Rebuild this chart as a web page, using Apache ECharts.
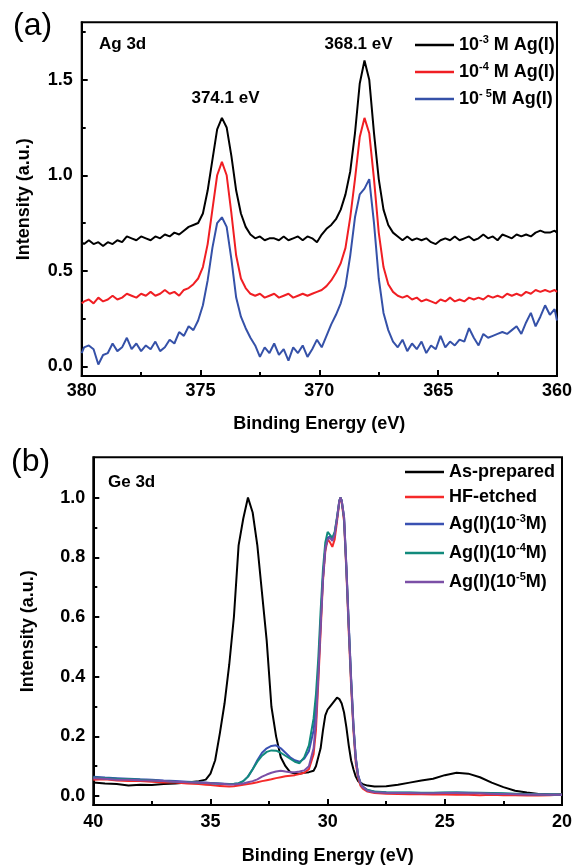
<!DOCTYPE html>
<html>
<head>
<meta charset="utf-8">
<script src="https://cdn.jsdelivr.net/npm/echarts@6/dist/echarts.min.js"></script>
<style>
html,body{margin:0;padding:0;background:#fff;}
#c{width:575px;height:866px;}
</style>
</head>
<body>
<div id="c"></div>
<script>
const FONT = '"Liberation Sans", Arial, Helvetica, sans-serif';

// ---------- Panel (a): Ag 3d ----------
// sampling positions (eV): 380, 379.9 ... 360.1 (step 0.2), 360
const energyA = [380].concat(Array.from({length: 100}, (_, i) => +(379.9 - 0.2 * i).toFixed(1))).concat([360]);
const agM3 = [0.65,
 0.64,0.66,0.64,0.65,0.63,0.65,0.64,0.66,0.65,0.68,
 0.67,0.66,0.68,0.67,0.66,0.68,0.67,0.69,0.68,0.70,
 0.69,0.71,0.73,0.74,0.75,0.80,0.92,1.08,1.24,1.30,
 1.25,1.10,0.92,0.80,0.73,0.69,0.67,0.68,0.66,0.67,
 0.67,0.66,0.68,0.66,0.67,0.68,0.66,0.68,0.67,0.65,
 0.69,0.72,0.74,0.77,0.82,0.90,1.02,1.22,1.48,1.60,
 1.50,1.22,0.98,0.82,0.74,0.70,0.68,0.66,0.68,0.66,
 0.67,0.66,0.67,0.65,0.64,0.66,0.67,0.66,0.68,0.66,
 0.67,0.68,0.66,0.67,0.69,0.67,0.68,0.66,0.69,0.68,
 0.67,0.69,0.68,0.69,0.68,0.70,0.71,0.70,0.70,0.71,
 0.70];
const agM4 = [0.33,
 0.34,0.35,0.33,0.36,0.34,0.35,0.37,0.35,0.36,0.38,
 0.37,0.36,0.38,0.37,0.39,0.37,0.38,0.40,0.38,0.39,
 0.37,0.40,0.41,0.43,0.46,0.52,0.64,0.82,1.00,1.07,
 1.00,0.80,0.58,0.46,0.41,0.38,0.37,0.38,0.36,0.37,
 0.38,0.36,0.37,0.38,0.36,0.37,0.38,0.37,0.38,0.39,
 0.40,0.42,0.45,0.49,0.54,0.62,0.78,0.98,1.20,1.30,
 1.22,0.98,0.70,0.52,0.43,0.39,0.37,0.36,0.37,0.35,
 0.36,0.34,0.35,0.34,0.33,0.35,0.34,0.36,0.34,0.35,
 0.34,0.36,0.35,0.36,0.35,0.37,0.36,0.37,0.36,0.38,
 0.37,0.38,0.37,0.39,0.38,0.40,0.39,0.40,0.39,0.40,
 0.39];
const agM5 = [0.07,
 0.10,0.11,0.09,0.01,0.06,0.07,0.12,0.08,0.10,0.15,
 0.09,0.12,0.08,0.11,0.09,0.13,0.08,0.10,0.14,0.12,
 0.18,0.16,0.21,0.19,0.24,0.32,0.45,0.62,0.75,0.78,
 0.73,0.56,0.36,0.26,0.20,0.15,0.11,0.05,0.10,0.07,
 0.12,0.06,0.09,0.03,0.10,0.07,0.11,0.05,0.09,0.14,
 0.10,0.16,0.22,0.27,0.33,0.42,0.58,0.78,0.90,0.93,
 0.98,0.75,0.46,0.28,0.19,0.13,0.10,0.14,0.08,0.12,
 0.09,0.13,0.07,0.11,0.09,0.16,0.10,0.13,0.11,0.14,
 0.13,0.20,0.15,0.11,0.17,0.15,0.16,0.17,0.18,0.17,
 0.19,0.21,0.17,0.23,0.28,0.21,0.26,0.32,0.27,0.30,
 0.24];
const namesA = ['10-3 M Ag(I)', '10-4 M Ag(I)', '10-5M Ag(I)'];
const legendTextA = ['{n|10}{s|-3}{n| M Ag(I)}', '{n|10}{s|-4}{n| M Ag(I)}', '{n|10}{s|- 5}{n|M Ag(I)}'];
const ticksA = [0, 0.5, 1.0, 1.5];
const minorTicksA = [0.25, 0.75, 1.25, 1.75];
const peakLabelsA = [
  {name: '374.1 eV', coord: [373.95, 1.40]},
  {name: '368.1 eV', coord: [368.35, 1.685]}
];

// ---------- Panel (b): Ge 3d ----------
const energyB = [40,39.5,39,38.5,38,37.5,37,36.5,36,35.5,
 35.2,35.0,34.8,34.6,34.4,34.2,34.0,33.8,33.6,33.4,33.2,33.0,32.8,32.6,32.4,32.2,32.0,31.8,31.6,31.4,31.2,31.0,
 30.8,30.6,
 30.5,30.4,30.3,30.2,30.1,30.0,29.9,29.8,29.7,29.6,29.5,
 29.45,
 29.4,29.3,29.2,29.1,29.0,28.9,28.8,28.7,28.6,28.5,
 28.3,28.0,
 27.5,27.0,26.5,26.0,25.5,25.0,24.5,24.0,23.5,23.0,22.5,22.0,21.5,21.0,20.5,20.0];
const asPrepared = [0.045,0.042,0.040,0.035,0.038,0.037,0.040,0.042,0.045,0.050,
 0.055,0.075,0.12,0.21,0.31,0.44,0.60,0.84,0.93,1.00,0.95,0.84,0.68,0.52,0.30,0.20,0.13,0.10,0.08,0.075,0.075,0.078,
 0.08,0.085,
 0.10,0.13,0.16,0.22,0.27,0.29,0.30,0.31,0.32,0.33,0.325,
 0.32,
 0.31,0.28,0.23,0.17,0.12,0.09,0.065,0.05,0.045,0.04,
 0.035,0.032,
 0.033,0.038,0.045,0.052,0.058,0.070,0.078,0.075,0.063,0.045,0.030,0.018,0.012,0.007,0.005,0.005];
const hfEtched = [0.055,0.056,0.052,0.050,0.050,0.048,0.045,0.045,0.042,0.040,
 0.038,0.037,0.035,0.034,0.033,0.032,0.033,0.035,0.038,0.040,0.043,0.046,0.050,0.053,0.056,0.060,0.063,0.066,0.068,0.070,0.074,0.078,
 0.09,0.14,
 0.22,0.38,0.55,0.72,0.82,0.86,0.85,0.835,0.86,0.92,0.985,
 1.0,
 0.985,0.92,0.75,0.55,0.37,0.22,0.11,0.06,0.035,0.025,
 0.015,0.010,
 0.008,0.007,0.006,0.006,0.005,0.005,0.004,0.004,0.003,0.004,0.003,0.003,0.002,0.002,0.003,0.005];
const agI3 = [0.065,0.062,0.060,0.058,0.056,0.055,0.052,0.050,0.048,0.046,
 0.045,0.044,0.043,0.042,0.041,0.040,0.040,0.042,0.050,0.065,0.090,0.120,0.145,0.160,0.168,0.170,0.160,0.145,0.130,0.120,0.115,0.125,
 0.15,0.22,
 0.30,0.42,0.58,0.73,0.83,0.865,0.87,0.86,0.88,0.93,0.99,
 1.0,
 0.99,0.935,0.77,0.58,0.40,0.24,0.13,0.07,0.045,0.032,
 0.020,0.014,
 0.012,0.011,0.011,0.010,0.010,0.011,0.012,0.011,0.010,0.009,0.008,0.007,0.006,0.005,0.005,0.004];
const agI4 = [0.062,0.060,0.058,0.057,0.055,0.053,0.050,0.048,0.047,0.045,
 0.044,0.043,0.042,0.041,0.040,0.040,0.041,0.043,0.050,0.065,0.090,0.115,0.135,0.148,0.153,0.152,0.145,0.135,0.125,0.115,0.110,0.130,
 0.17,0.26,
 0.34,0.46,0.62,0.76,0.85,0.885,0.875,0.865,0.885,0.935,0.99,
 1.0,
 0.99,0.93,0.76,0.57,0.39,0.235,0.125,0.068,0.042,0.030,
 0.020,0.015,
 0.013,0.012,0.012,0.011,0.011,0.012,0.012,0.011,0.011,0.010,0.009,0.008,0.007,0.006,0.005,0.005];
const agI5 = [0.060,0.058,0.055,0.055,0.053,0.052,0.050,0.048,0.046,0.045,
 0.044,0.043,0.042,0.041,0.040,0.039,0.039,0.040,0.042,0.046,0.050,0.056,0.065,0.072,0.078,0.082,0.085,0.082,0.080,0.080,0.082,0.086,
 0.10,0.16,
 0.25,0.40,0.57,0.73,0.83,0.86,0.865,0.855,0.875,0.93,0.99,
 1.0,
 0.99,0.935,0.765,0.57,0.39,0.235,0.125,0.068,0.042,0.030,
 0.018,0.013,
 0.011,0.010,0.010,0.009,0.009,0.010,0.010,0.009,0.009,0.008,0.007,0.006,0.005,0.005,0.004,0.004];
const namesB = ['As-prepared', 'HF-etched', 'Ag(I)(10-3M)', 'Ag(I)(10-4M)', 'Ag(I)(10-5M)'];
const legendTextB = ['As-prepared', 'HF-etched', '{n|Ag(I)(10}{s|-3}{n|M)}', '{n|Ag(I)(10}{s|-4}{n|M)}', '{n|Ag(I)(10}{s|-5}{n|M)}'];
const ticksB = [0, 0.2, 0.4, 0.6, 0.8, 1.0];
const minorTicksB = [0.1, 0.3, 0.5, 0.7, 0.9];

// ---------- styles ----------
const colorsA = ['#000000', '#f01e23', '#3551a8'];
const colorsB = ['#000000', '#f52a2a', '#3a51b2', '#118a7c', '#7b4fa6'];
const pair = (xs, ys) => xs.map((x, i) => [x, ys[i]]);
const axisLineStyle = {color: '#000', width: 2};
const labelStyle = {color: '#000', fontSize: 18, fontWeight: 'bold', fontFamily: FONT};
const nameStyle = {color: '#000', fontSize: 18, fontWeight: 'bold', fontFamily: FONT};
const richStyle = {
  n: {color: '#000', fontSize: 18, fontWeight: 'bold', fontFamily: FONT, lineHeight: 22},
  s: {color: '#000', fontSize: 11, fontWeight: 'bold', fontFamily: FONT, lineHeight: 12, verticalAlign: 'top'}
};

function xAxisCfg(gi, min, max, margin, gap) {
  return {
    gridIndex: gi, type: 'value', min: min, max: max, interval: 5, inverse: true,
    axisLine: {show: true, onZero: false, lineStyle: axisLineStyle},
    axisTick: {show: true, inside: true, length: 6, lineStyle: axisLineStyle},
    minorTick: {show: true, splitNumber: 2, length: 4, lineStyle: axisLineStyle},
    splitLine: {show: false}, minorSplitLine: {show: false},
    axisLabel: Object.assign({margin: margin, showMinLabel: true, showMaxLabel: true}, labelStyle),
    name: 'Binding Energy (eV)', nameLocation: 'middle', nameGap: gap, nameTextStyle: nameStyle
  };
}
function yAxisMajor(gi, min, max, ticks, margin, gap) {
  return {
    gridIndex: gi, type: 'value', min: min, max: max, position: 'left',
    axisLine: {show: true, onZero: false, lineStyle: axisLineStyle},
    axisTick: {show: true, inside: true, length: 6, customValues: ticks, lineStyle: axisLineStyle},
    splitLine: {show: false},
    axisLabel: Object.assign({margin: margin, customValues: ticks, formatter: v => Number(v).toFixed(1)}, labelStyle),
    name: 'Intensity (a.u.)', nameLocation: 'middle', nameGap: gap, nameTextStyle: nameStyle
  };
}
function yAxisMinor(gi, min, max, ticks) {
  return {
    gridIndex: gi, type: 'value', min: min, max: max, position: 'left', offset: 0,
    axisLine: {show: false},
    axisTick: {show: true, inside: true, length: 4, customValues: ticks, lineStyle: axisLineStyle},
    axisLabel: {show: false}, splitLine: {show: false}
  };
}

const seriesA = [agM3, agM4, agM5].map((ys, i) => ({
  name: namesA[i], type: 'line', xAxisIndex: 0, yAxisIndex: 0,
  data: pair(energyA, ys), showSymbol: false, symbol: 'none',
  lineStyle: {color: colorsA[i], width: 2}, itemStyle: {color: colorsA[i]},
  z: 3 - i
}));
seriesA[0].markPoint = {
  symbol: 'rect', symbolSize: 1, itemStyle: {color: 'rgba(0,0,0,0)'},
  label: {show: true, position: 'inside', formatter: '{b}', color: '#000', fontSize: 17, fontWeight: 'bold', fontFamily: FONT},
  data: peakLabelsA
};
const seriesB = [asPrepared, hfEtched, agI3, agI4, agI5].map((ys, i) => ({
  name: namesB[i], type: 'line', xAxisIndex: 1, yAxisIndex: 2,
  data: pair(energyB, ys), showSymbol: false, symbol: 'none',
  lineStyle: {color: colorsB[i], width: 2}, itemStyle: {color: colorsB[i]}
}));

const chart = echarts.init(document.getElementById('c'), null, {renderer: 'canvas'});
chart.setOption({
  animation: false,
  backgroundColor: '#fff',
  grid: [
    {left: 81.7, top: 22.3, width: 476, height: 353.7, show: true, borderColor: '#000', borderWidth: 2, backgroundColor: 'transparent'},
    {left: 93.3, top: 457.3, width: 470, height: 348.7, show: true, borderColor: '#000', borderWidth: 2, backgroundColor: 'transparent'}
  ],
  xAxis: [xAxisCfg(0, 360, 380, 6, 39), xAxisCfg(1, 20, 40, 8, 42)],
  yAxis: [
    yAxisMajor(0, -0.05, 1.8, ticksA, 9, 49),
    yAxisMinor(0, -0.05, 1.8, minorTicksA),
    yAxisMajor(1, -0.03, 1.135, ticksB, 8, 56),
    yAxisMinor(1, -0.03, 1.135, minorTicksB)
  ],
  legend: [
    {
      data: namesA, orient: 'vertical', left: 415, top: 34, itemWidth: 39, itemHeight: 2.5, itemGap: 5,
      icon: 'rect', selectedMode: false, padding: 0,
      formatter: name => legendTextA[namesA.indexOf(name)],
      textStyle: {color: '#000', fontSize: 18, fontWeight: 'bold', fontFamily: FONT, lineHeight: 22, rich: richStyle}
    },
    {
      data: namesB, orient: 'vertical', left: 405, top: 463, itemWidth: 39, itemHeight: 2.5, itemGap: 7,
      icon: 'rect', selectedMode: false, padding: 0,
      formatter: name => legendTextB[namesB.indexOf(name)],
      textStyle: {color: '#000', fontSize: 18, fontWeight: 'bold', fontFamily: FONT, lineHeight: 16, rich: richStyle}
    }
  ],
  graphic: [
    {type: 'text', left: 13, top: 10, style: {text: '(a)', fontSize: 32, fontFamily: FONT, fill: '#000'}},
    {type: 'text', left: 11, top: 446, style: {text: '(b)', fontSize: 32, fontFamily: FONT, fill: '#000'}},
    {type: 'text', left: 99, top: 36, style: {text: 'Ag 3d', fontSize: 17, fontWeight: 'bold', fontFamily: FONT, fill: '#000'}},
    {type: 'text', left: 108, top: 474, style: {text: 'Ge 3d', fontSize: 17, fontWeight: 'bold', fontFamily: FONT, fill: '#000'}}
  ],
  series: seriesA.concat(seriesB)
});
</script>
</body>
</html>
